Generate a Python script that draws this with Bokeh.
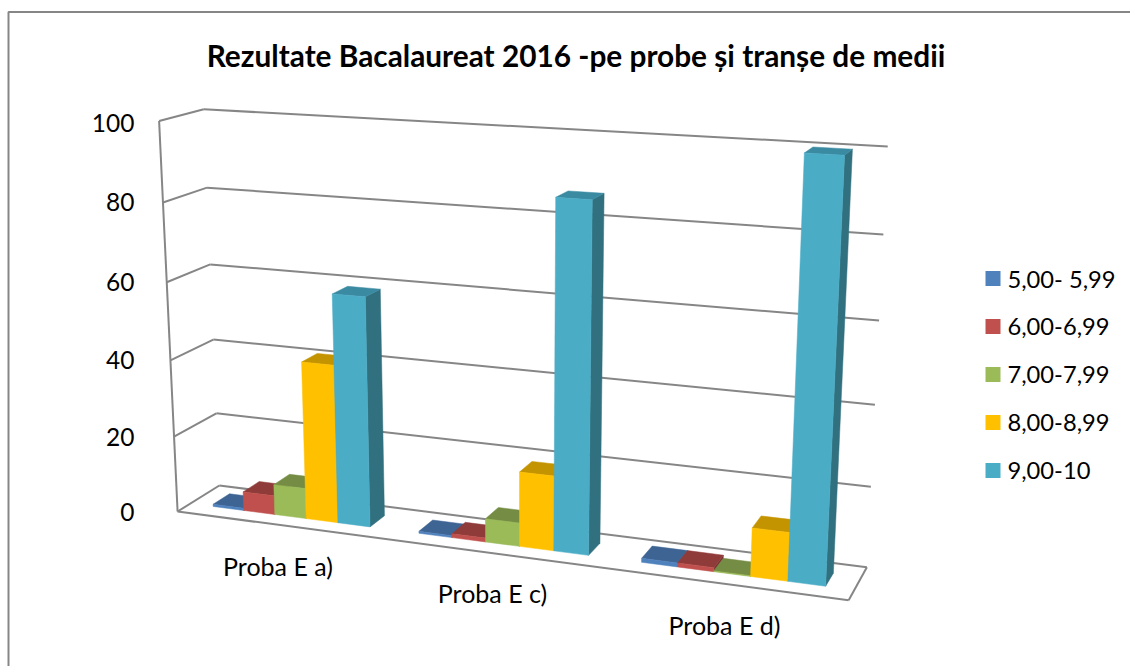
import numpy as np
from bokeh.plotting import figure
from bokeh.core.properties import value
from bokeh.embed import file_html
from bokeh.resources import INLINE

TITLE = "Rezultate Bacalaureat 2016 -pe probe și tranșe de medii"
categories = ["Proba E a)", "Proba E c)", "Proba E d)"]
series_names = ["5,00- 5,99", "6,00-6,99", "7,00-7,99", "8,00-8,99", "9,00-10"]
s_5 = [0.6, 0.5, 1]
s_6 = [5, 1, 1]
s_7 = [8, 6, 0.2]
s_8 = [41, 19, 12]
s_9 = [59, 86.5, 100]
series_values = [s_5, s_6, s_7, s_8, s_9]
y_ticks = [0, 20, 40, 60, 80, 100]
y_tick_labels = ["0", "20", "40", "60", "80", "100"]
y_tick_label_px = [511, 436, 359, 281, 201, 122]
front_colors = ["#4F81BD", "#C0504D", "#9BBB59", "#FFC000", "#4BACC6"]
top_colors = ["#3E6494", "#8F3B39", "#748C43", "#C49400", "#3A8AA2"]
side_colors = ["#345478", "#7A3230", "#5F7337", "#A67D00", "#31707F"]
GRID = "#868686"
FONT = "Lato"

# Perspective camera of the chart box, solved from the box corners seen on the page.
# (u along categories, v value/100, w depth) -> page pixels
back_left = [(218, 485), (216, 413), (213, 339), (210, 264), (207, 187), (203, 109)]
back_right = [(866, 566), (870, 487), (875, 404), (879, 320), (883, 234), (887, 146)]
front_left = [(177, 512), (174, 436), (170, 359), (167, 281), (163, 201), (157, 122)]
front_right_floor = (848, 600)
pts = []
for i, t in enumerate(y_ticks):
    pts.append(((0, t / 100, 1), back_left[i]))
    pts.append(((1, t / 100, 1), back_right[i]))
    pts.append(((0, t / 100, 0), front_left[i]))
pts.append(((1, 0, 0), front_right_floor))
A = []
for (u, v, w), (x, y) in pts:
    X = [u, v, w, 1]
    A.append(X + [0, 0, 0, 0] + [-x * c for c in X])
    A.append([0, 0, 0, 0] + X + [-y * c for c in X])
P = np.linalg.svd(np.array(A, float))[2][-1].reshape(3, 4)


def proj(u, val, w):
    h = P @ np.array([u, val / 100, w, 1.0])
    return h[0] / h[2], h[1] / h[2]


p = figure(width=1130, height=666, x_range=(0, 1130), y_range=(666, 0),
           output_backend="svg", toolbar_location=None, x_axis_type=None, y_axis_type=None,
           min_border=0, outline_line_color=None, background_fill_color="white")
p.grid.visible = False


def poly(corners, color):
    xy = [proj(*c) for c in corners]
    p.patch([a for a, _ in xy], [b for _, b in xy], fill_color=color, line_color=color, line_width=0.5)


def seg(c0, c1):
    a, b = proj(*c0), proj(*c1)
    p.line([a[0], b[0]], [a[1], b[1]], line_color=GRID, line_width=2)


# chart frame (left and top edges only are visible)
p.line([8, 8, 1130], [666, 11.5, 11.5], line_color=GRID, line_width=2)

# walls & floor
for t in y_ticks:
    seg((0, t, 0), (0, t, 1))
    seg((0, t, 1), (1, t, 1))
seg((0, 0, 0), (0, 100, 0))
seg((0, 0, 0), (1, 0, 0))
seg((1, 0, 0), (1, 0, 1))

# bars
UNITS = 6.5
W0, W1 = 0.3, 0.7
for k in range(len(categories)):
    for i, vals in enumerate(series_values):
        v = vals[k]
        u0 = (k + (0.75 + i) / UNITS) / len(categories)
        u1 = (k + (1.75 + i) / UNITS) / len(categories)
        poly([(u1, 0, W0), (u1, 0, W1), (u1, v, W1), (u1, v, W0)], side_colors[i])
        poly([(u0, v, W0), (u1, v, W0), (u1, v, W1), (u0, v, W1)], top_colors[i])
        poly([(u0, 0, W0), (u1, 0, W0), (u1, v, W0), (u0, v, W0)], front_colors[i])

# y labels
p.text([134] * 6, y_tick_label_px, text=y_tick_labels, text_align="right", text_baseline="middle",
       text_font=value(FONT), text_font_size="24.5px", text_color="#000000")
# category labels
p.text([277.5, 492, 724], [565, 592.5, 624.5], text=categories, text_align="center", text_baseline="middle",
       text_font=value(FONT), text_font_size="25px", text_color="#000000")
# title
p.text([575.5], [55], text=[TITLE], text_align="center", text_baseline="middle",
       text_font=value(FONT), text_font_size="29.8px", text_font_style="bold", text_color="#000000")
# legend
leg_y = [278, 326, 374, 422, 470]
p.rect([992.5] * 5, leg_y, width=15, height=15, fill_color=front_colors, line_color=None)
p.text([1007] * 5, leg_y, text=series_names, text_align="left", text_baseline="middle",
       text_font=value(FONT), text_font_size="23.7px", text_color="#000000")

open("out.html", "w").write(file_html(p, INLINE))
